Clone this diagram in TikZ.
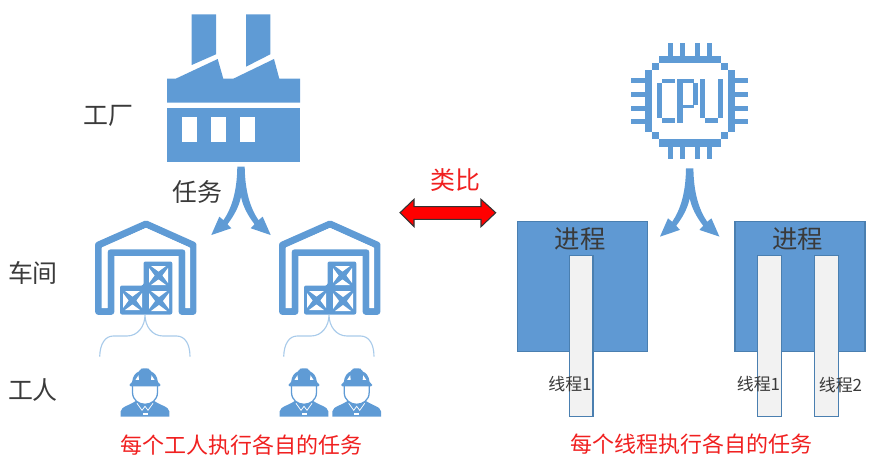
\documentclass[tikz,border=0pt]{standalone}
\usepackage{fontspec}
\setmainfont{Noto Sans CJK SC}
\definecolor{iconblue}{HTML}{5F9BD5}
\definecolor{boxblue}{HTML}{5F99D3}
\definecolor{boxedge}{HTML}{4A7FB0}
\definecolor{bracelight}{HTML}{A9CBEA}
\definecolor{threadfill}{HTML}{F2F2F2}
\definecolor{txt}{HTML}{3A3A3A}
\definecolor{redtxt}{HTML}{F02020}
\newcommand{\mycrate}[3]{%
  \fill[white] (#1+5,#2+3) -- (#1+#3-5,#2+3) -- (#1+#3/2,#2+#3/2-4) -- cycle;
  \fill[white] (#1+5,#2+#3-3) -- (#1+#3-5,#2+#3-3) -- (#1+#3/2,#2+#3/2+4) -- cycle;
  \fill[white] (#1+3,#2+5) -- (#1+3,#2+#3-5) -- (#1+#3/2-4,#2+#3/2) -- cycle;
  \fill[white] (#1+#3-3,#2+5) -- (#1+#3-3,#2+#3-5) -- (#1+#3/2+4,#2+#3/2) -- cycle;
}
\tikzset{
  lab/.style={inner sep=0pt,text=txt,font=\fontsize{18.7}{20}\selectfont},
  redlab/.style={inner sep=0pt,text=redtxt,font=\fontsize{16.5}{18}\selectfont},
  thlab/.style={inner sep=0pt,text=txt,font=\fontsize{12.7}{14}\selectfont},
  procbox/.style={draw=boxedge,fill=boxblue,line width=.9pt},
  threadbox/.style={draw=boxedge,fill=threadfill,line width=.9pt},
  pics/fork/.style={code={
    \fill[iconblue] (0,0) -- (3.7,0) .. controls (4,24) and (9,41) .. (17.5,53.5) -- (21.7,50) -- (29.7,68.3) -- (9.7,61.6) -- (13.5,57.5)
      .. controls (7,49) and (2,40) .. (0,30) .. controls (-2,40) and (-7,49) .. (-13.5,57.5) -- (-9.7,61.6) -- (-29.7,68.3) -- (-21.7,50) -- (-17.5,53.5)
      .. controls (-9,41) and (-4,24) .. (-3.7,0) -- cycle;
  }},
  pics/warehouse/.style={code={
    \draw[iconblue,line width=5.2pt,line join=round,line cap=round]
      (98.5,311.5) -- (98.5,245) -- (146,224) -- (193,245) -- (193,311.5) -- (182,311.5) -- (182,252.5) -- (111,252.5) -- (111,311.5) -- cycle;
    \fill[white] (101.7,248) -- (146,228) -- (190,248) -- (190,308) -- (185.7,308) -- (185.7,249.3) -- (107.3,249.3) -- (107.3,308) -- (101.7,308) -- cycle;
    \fill[iconblue,rounded corners=1.5pt] (120,314.5) -- (120,285.5) -- (143.5,285.5) -- (143.5,261.5) -- (172.3,261.5) -- (172.3,314.5) -- cycle;
    \mycrate{120}{288}{25}
    \mycrate{146}{288}{26}
    \mycrate{146}{263}{25}
    \draw[bracelight,line width=.85pt] (99.7,356.7) .. controls (100,344) and (105,336) .. (113.3,336) -- (127,336) .. controls (138,336) and (145,326) .. (145,315)
      .. controls (145,326) and (152,336) .. (163,336) -- (176.5,336) .. controls (185,336) and (190,344) .. (190,356.7);
  }},
  pics/worker/.style={code={
    \fill[iconblue] (-24.3,48.3) -- (-24.3,43) .. controls (-24,38) and (-14,37) .. (-7,31) -- (7,31) .. controls (14,37) and (24,38) .. (24.3,43) -- (24.3,48.3) -- cycle;
    \draw[white,line width=.55pt] (-8,35) -- (-3,42) -- (0,38) -- (3,42) -- (8,35);
    \fill[white] (-2.5,44.5) rectangle (2.5,47);
    \draw[iconblue,fill=white,line width=.95pt] (-12.5,17) -- (-12.5,24) .. controls (-12.5,32) and (-6,36) .. (0,36) .. controls (6,36) and (12.5,32) .. (12.5,24) -- (12.5,17) -- cycle;
    \fill[iconblue,rounded corners=1pt] (-15.7,18) -- (-15.7,15.5) -- (-13,15) .. controls (-12.5,8) and (-9,4) .. (-5,3) -- (-5,1) -- (-3,0) -- (3,0) -- (5,1) -- (5,3) .. controls (9,4) and (12.5,8) .. (13,15) -- (15.7,15.5) -- (15.7,18) -- cycle;
    \fill[white] (-9.5,11.5) -- (-6.5,7) -- (-6,11.5) -- cycle;
    \fill[white] (9.5,11.5) -- (6.5,7) -- (6,11.5) -- cycle;
  }}
}
\begin{document}
\begin{tikzpicture}[x=0.75pt,y=-0.75pt]
\useasboundingbox (0,0) rectangle (874,467);
% factory
\fill[iconblue] (191.7,14.3) -- (216,14.3) -- (216,54.3) -- (191.7,65) -- cycle;
\fill[iconblue] (246,14.3) -- (270.3,14.3) -- (270.3,54.3) -- (246,66.7) -- cycle;
\fill[iconblue] (167,78.7) -- (175.7,78.7) -- (217.7,59) -- (223.3,78.7) -- (233.3,78.7) -- (274,59) -- (279.3,78.7) -- (300,78.7) -- (300,102.7) -- (167,102.7) -- cycle;
\fill[iconblue] (167,108.3) rectangle (300,162.3);
\fill[white] (182,117.3) rectangle (196.7,142);
\fill[white] (211,117.3) rectangle (225.7,142);
\fill[white] (240,117.3) rectangle (254.7,142);
\pic (forkA) at (241,166.7) {fork};
\pic (forkB) at (689.7,168.3) {fork};
% warehouses
\pic (houseA) at (0,0) {warehouse};
\pic (houseB) at (184,0) {warehouse};
% workers
\pic (workerA) at (145,368.3) {worker};
\pic (workerB) at (304,368.3) {worker};
\pic (workerC) at (356.7,368.3) {worker};
% CPU
\fill[iconblue] (659.3,56) rectangle (720.7,62.7);
\fill[iconblue] (659.3,139.3) rectangle (720.7,146.7);
\fill[iconblue] (645,70) rectangle (652.3,131.7);
\fill[iconblue] (727.7,70) rectangle (735,131.7);
\fill[iconblue] (652.3,62.7) rectangle (659.3,70);
\fill[iconblue] (720.7,62.7) rectangle (727.7,70);
\fill[iconblue] (652.3,131.7) rectangle (659.3,139);
\fill[iconblue] (720.7,131.7) rectangle (727.7,139);
\foreach \px in {667.7,680,695,707.3}{
  \fill[iconblue] (\px,42.7) rectangle (\px+5,56);
  \fill[iconblue] (\px,146.7) rectangle (\px+5,159.3);
}
\foreach \py in {78.3,91.7,106,119}{
  \fill[iconblue] (631,\py) rectangle (645,\py+5);
  \fill[iconblue] (735,\py) rectangle (748.3,\py+5);
}
% C
\fill[iconblue] (661.7,79) rectangle (675,83.3);
\fill[iconblue] (657.3,83.3) rectangle (662.3,118.3);
\fill[iconblue] (661.7,118.3) rectangle (675,122.7);
% P
\fill[iconblue] (677.3,79) rectangle (682.7,122.7);
\fill[iconblue] (682.7,79) rectangle (694,83.3);
\fill[iconblue] (693.3,83.3) rectangle (698.3,105);
\fill[iconblue] (682.7,105) rectangle (694,108.3);
% U
\fill[iconblue] (700,79) rectangle (705,118.3);
\fill[iconblue] (705,118.3) rectangle (718.3,122.7);
\fill[iconblue] (718.3,79) rectangle (723.3,118.3);
% processes and threads
\node[procbox,minimum width=97.7pt,minimum height=97.5pt,inner sep=0pt,anchor=north west] (procA) at (516.7,220.7) {};
\node[procbox,minimum width=97.5pt,minimum height=97.5pt,inner sep=0pt,anchor=north west] (procB) at (734.3,220.7) {};
\node[threadbox,minimum width=17.7pt,minimum height=120.7pt,inner sep=0pt,anchor=north west] (thrA) at (568.7,255) {};
\node[threadbox,minimum width=18.2pt,minimum height=120.7pt,inner sep=0pt,anchor=north west] (thrB) at (757,255) {};
\node[threadbox,minimum width=18pt,minimum height=120.7pt,inner sep=0pt,anchor=north west] (thrC) at (813.7,255) {};
\node[lab,font=\fontsize{19}{21}\selectfont] (pA) at (580,239) {进程};
\node[lab,font=\fontsize{19}{21}\selectfont] (pB) at (797.5,239) {进程};
\node[thlab] (tA) at (570,384) {线程1};
\node[thlab] (tB) at (758.5,384) {线程1};
\node[thlab] (tC) at (840.5,385.5) {线程2};
% labels
\node[lab] (l1) at (108.5,116) {工厂};
\node[lab] (l2) at (197,192) {任务};
\node[lab] (l3) at (33,273) {车间};
\node[lab] (l4) at (33,390) {工人};
\node[inner sep=0pt,text=redtxt,font=\fontsize{18.7}{20}\selectfont] (l5) at (455,180) {类比};
\node[redlab] (l6) at (241,445) {每个工人执行各自的任务};
\node[redlab] (l7) at (691,444) {每个线程执行各自的任务};
% double arrow
\draw[fill=red,draw=black!80,line width=.8pt,line join=miter] (400,212.7) -- (414,199.3) -- (414,206.7) -- (481,206.7) -- (481,199.3) -- (495.7,212.7) -- (481,226.7) -- (481,219.3) -- (414,219.3) -- (414,226.7) -- cycle;
\end{tikzpicture}
\end{document}
